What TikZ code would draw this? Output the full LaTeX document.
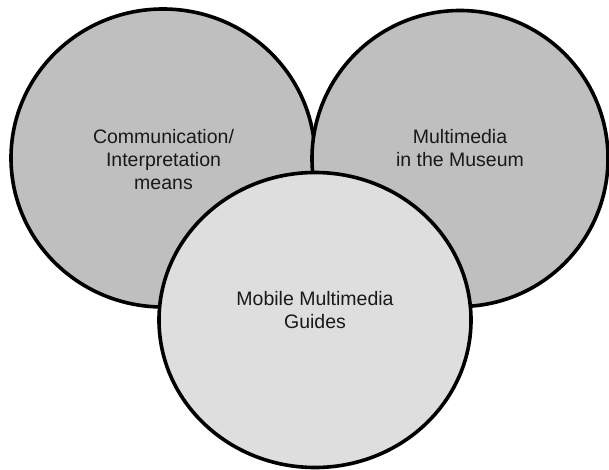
\documentclass[tikz,border=0pt]{standalone}
\usepackage{fontspec}
\setmainfont{Liberation Sans}
\usetikzlibrary{shapes.geometric}

\tikzset{
  bubble/.style={ellipse, draw=black, line width=3.6pt, inner sep=0pt},
  caption/.style={align=center, text=black!90, font=\fontsize{19.5}{23}\selectfont}
}

\begin{document}
\begin{tikzpicture}[x=1pt, y=-1pt]
  \useasboundingbox (0,0) rectangle (609,470);
  \node[bubble, fill=black!25, minimum width=304pt, minimum height=298pt] (means) at (163,158) {};
  \node[bubble, fill=black!25, minimum width=296pt, minimum height=296pt] (museum) at (460,158.5) {};
  \node[bubble, fill=black!13, minimum width=312pt, minimum height=295pt] (guides) at (315,320) {};
  \node[caption] (meanstext) at (163.5,160) {Communication/\\Interpretation\\means};
  \node[caption] (museumtext) at (460,148.5) {Multimedia\\in the Museum};
  \node[caption] (guidestext) at (315,310) {Mobile Multimedia\\Guides};
\end{tikzpicture}
\end{document}
